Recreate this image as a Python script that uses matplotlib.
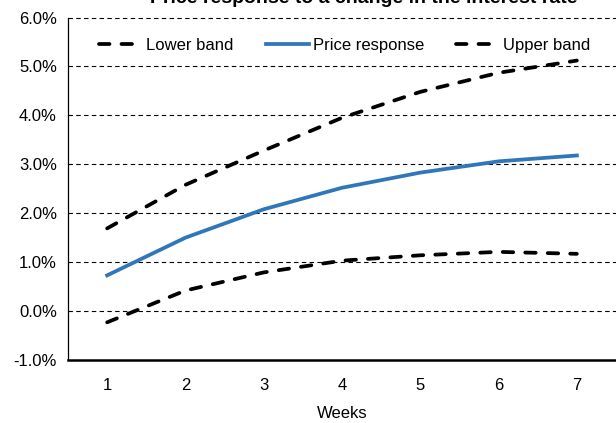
import numpy as np
import matplotlib
matplotlib.use('Agg')
import matplotlib.pyplot as plt
from matplotlib.ticker import FuncFormatter

plt.rcParams['font.family'] = ['Liberation Sans', 'DejaVu Sans']

# data (percent)
weeks = [1, 2, 3, 4, 5, 6, 7]
lower_band = [-0.23, 0.42, 0.79, 1.03, 1.14, 1.21, 1.17]
price_response = [0.73, 1.50, 2.08, 2.52, 2.83, 3.06, 3.18]
upper_band = [1.69, 2.58, 3.28, 3.95, 4.48, 4.87, 5.12]
y_ticks = [-1, 0, 1, 2, 3, 4, 5, 6]
title = 'Price response to a change in the interest rate'

fig = plt.figure(figsize=(6.16, 4.23), dpi=100)
ax = fig.add_axes([68 / 616, 63 / 423, 548 / 616, 342.5 / 423])

# dashed horizontal gridlines
for t in y_ticks[1:]:
    ax.axhline(t, color='black', lw=0.8, dashes=(4, 3), zorder=1)

ax.plot(weeks, lower_band, color='black', lw=2.7, dashes=(2.8, 3.2),
        dash_capstyle='round', label='Lower band', zorder=3)
ax.plot(weeks, price_response, color='#2f77b8', lw=2.7,
        label='Price response', zorder=3)
ax.plot(weeks, upper_band, color='black', lw=2.7, dashes=(2.8, 3.2),
        dash_capstyle='round', label='Upper band', zorder=3)

ax.set_xlim(0.5, 7.5)
ax.set_ylim(-1, 6)
ax.set_xticks(weeks)
ax.set_yticks(y_ticks)
ax.yaxis.set_major_formatter(FuncFormatter(lambda v, p: '%.1f%%' % v))
ax.tick_params(length=0, labelsize=12, colors='black')
ax.tick_params(axis='x', pad=13)
ax.tick_params(axis='y', pad=8)
ax.set_xlabel('Weeks', fontsize=12, labelpad=9)

ax.spines['right'].set_visible(False)
ax.spines['top'].set_visible(False)
ax.spines['left'].set_linewidth(0.9)
ax.spines['bottom'].set_linewidth(1.8)

ax.legend(loc='upper left', bbox_to_anchor=(0.03, 0.985), ncol=3, frameon=False,
          fontsize=12, handlelength=2.6, columnspacing=1.95, handletextpad=0.2)

# title is cut off at the top of the image
fig.text(0.59, 1 - 3 / 423, title, ha='center', va='baseline',
         fontsize=14, fontweight='bold')

fig.savefig('out.png', dpi=100)
